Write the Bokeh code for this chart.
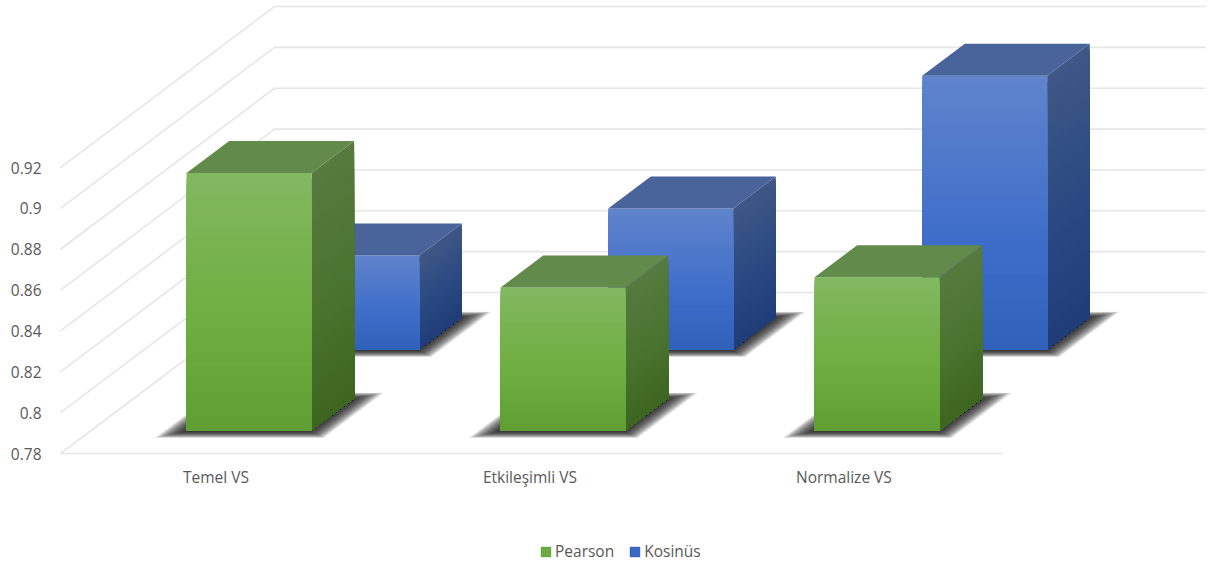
from bokeh.embed import file_html
from bokeh.models import FixedTicker, Legend, LegendItem
from bokeh.plotting import figure
from bokeh.resources import INLINE

# Chart data
categories = ["Temel VS", "Etkileşimli VS", "Normalize VS"]
pearson = [0.906, 0.850, 0.855]
kosinus = [0.826, 0.849, 0.914]
value_ticks = [0.78, 0.80, 0.82, 0.84, 0.86, 0.88, 0.90, 0.92]
tick_labels = ["0.78", "0.8", "0.82", "0.84", "0.86", "0.88", "0.9", "0.92"]

# Oblique projection: one unit of depth moves a point right and up
DEPTH_X = 214 / 314
DEPTH_Y = 161 / 2042.5
WALL_END = 2.965
BAR_START = 0.304
BAR_WIDTH = 0.398
ROW_DEPTH = {"front": (0.143, 0.342), "back": (0.646, 0.845)}
BANDS = 48
TEXT = "#595959"
FONT = "Open Sans"
FONT_SIZE = "15.5px"


def project(u, v, d):
    return u + d * DEPTH_X, v + d * DEPTH_Y


def hex_rgb(c):
    return tuple(int(c[i:i + 2], 16) for i in (1, 3, 5))


def ramp(stops, t):
    for (t0, c0), (t1, c1) in zip(stops, stops[1:]):
        if t <= t1:
            f = (t - t0) / (t1 - t0)
            a, b = hex_rgb(c0), hex_rgb(c1)
            return "#%02x%02x%02x" % tuple(round(a[i] + (b[i] - a[i]) * f) for i in range(3))
    return stops[-1][1]


GREEN = {
    "front": [(0, "#82b860"), (0.55, "#6fae40"), (1, "#5f9e32")],
    "side": [(0, "#567a3f"), (0.5, "#4a7430"), (1, "#3d651f")],
    "top": "#628a4a",
    "swatch": "#6aa944",
}
BLUE = {
    "front": [(0, "#6083cc"), (0.6, "#3d6dc9"), (1, "#2f61b9")],
    "side": [(0, "#3f5785"), (0.5, "#2b4a82"), (1, "#1f3c78")],
    "top": "#49639b",
    "swatch": "#3667c2",
}

p = figure(
    width=1214, height=567, output_backend="svg", toolbar_location=None,
    x_range=(-60 / 314, 1154 / 314), y_range=(0.78 - 114 / 2042.5, 0.78 + 453 / 2042.5),
    min_border=0, x_axis_location="below", y_axis_location="left",
    background_fill_color="white", border_fill_color="white", outline_line_color=None,
)
p.grid.visible = False

# Value axis pinned to the left wall's front edge
ya = p.yaxis[0]
ya.fixed_location = 0
ya.ticker = FixedTicker(ticks=value_ticks)
ya.major_label_overrides = dict(zip(value_ticks, tick_labels))
ya.axis_line_color = None
ya.major_tick_line_color = None
ya.minor_tick_line_color = None
ya.major_label_standoff = 13
ya.major_label_text_color = TEXT
ya.major_label_text_font = FONT
ya.major_label_text_font_size = FONT_SIZE

# Category axis pinned under the floor
xa = p.xaxis[0]
centres = [i + 0.495 for i in range(len(categories))]
xa.fixed_location = value_ticks[0]
xa.ticker = FixedTicker(ticks=centres)
xa.major_label_overrides = dict(zip(centres, categories))
xa.axis_line_color = None
xa.major_tick_line_color = None
xa.minor_tick_line_color = None
xa.major_label_standoff = 6
xa.major_label_text_color = TEXT
xa.major_label_text_font = FONT
xa.major_label_text_font_size = FONT_SIZE

# Wall and floor gridlines
grid_xs, grid_ys = [], []
for v in value_ticks:
    a = project(0, v, 0)
    b = project(0, v, 1)
    c = project(WALL_END, v, 1)
    grid_xs.append([a[0], b[0], c[0]])
    grid_ys.append([a[1], b[1], c[1]])
grid_xs.append([0, len(categories)])
grid_ys.append([value_ticks[0], value_ticks[0]])
p.multi_line(grid_xs, grid_ys, line_color="#e6e6e6", line_width=1.6)


def draw_shadow(u0, d0, d1):
    """Soft floor shadow built from stacked translucent parallelograms."""
    base = value_ticks[0]
    layers = 20
    for k in range(layers):
        e = 1 - k / (layers - 1)
        du = 0.07 * e
        left, right = u0 - du, u0 + BAR_WIDTH + du
        near, far = d0 - 0.006 - 0.04 * e, d1 + 0.036 * e
        corners = [(left, near), (right, near), (right, far), (left, far)]
        pts = [project(a, base, b) for a, b in corners]
        p.patch([q[0] for q in pts], [q[1] for q in pts],
                fill_color="#1c1c1c", fill_alpha=0.085, line_color=None)


def draw_bar(u0, value, d0, d1, style):
    base = value_ticks[0]
    u1 = u0 + BAR_WIDTH
    # Each band runs from its top edge down to the base, so no seams show between bands
    front_x, front_y, front_c, side_x, side_y, side_c = [], [], [], [], [], []
    for k in range(BANDS):
        t = k / BANDS
        v = value + (base - value) * t
        corners = [(u0, v, d0), (u1, v, d0), (u1, base, d0), (u0, base, d0)]
        pts = [project(*q) for q in corners]
        front_x.append([q[0] for q in pts])
        front_y.append([q[1] for q in pts])
        front_c.append(ramp(style["front"], t))
        corners = [(u1, v, d0), (u1, v, d1), (u1, base, d1), (u1, base, d0)]
        pts = [project(*q) for q in corners]
        side_x.append([q[0] for q in pts])
        side_y.append([q[1] for q in pts])
        side_c.append(ramp(style["side"], t))
    p.patches(side_x, side_y, fill_color=side_c, line_color=None)
    p.patches(front_x, front_y, fill_color=front_c, line_color=None)
    corners = [(u0, value, d0), (u1, value, d0), (u1, value, d1), (u0, value, d1)]
    pts = [project(*q) for q in corners]
    p.patch([q[0] for q in pts], [q[1] for q in pts], fill_color=style["top"], line_color=None)


# Rear row first so the front row covers it
for values, row, style in ((kosinus, "back", BLUE), (pearson, "front", GREEN)):
    d0, d1 = ROW_DEPTH[row]
    for i, val in enumerate(values):
        draw_shadow(i + BAR_START, d0, d1)
    for i, val in enumerate(values):
        draw_bar(i + BAR_START, val, d0, d1, style)

# Legend below the category labels
nan = float("nan")
r_p = p.quad(left=[nan], right=[nan], top=[nan], bottom=[nan], fill_color=GREEN["swatch"], line_color=None)
r_k = p.quad(left=[nan], right=[nan], top=[nan], bottom=[nan], fill_color=BLUE["swatch"], line_color=None)
legend = Legend(
    items=[LegendItem(label="Pearson", renderers=[r_p]), LegendItem(label="Kosinüs", renderers=[r_k])],
    orientation="horizontal", location=(539, 5),
    glyph_width=13, glyph_height=13, label_standoff=3, spacing=14, padding=0, margin=0,
    border_line_color=None, background_fill_alpha=0,
    label_text_font=FONT, label_text_font_size=FONT_SIZE, label_text_color=TEXT,
)
p.add_layout(legend, "center")

open("out.html", "w").write(file_html(p, INLINE))
